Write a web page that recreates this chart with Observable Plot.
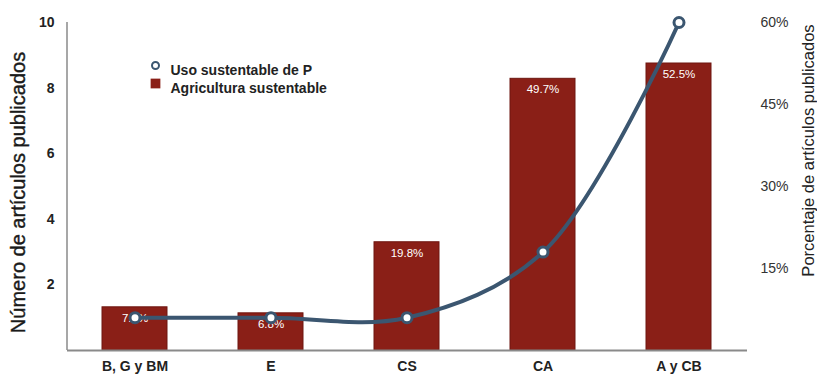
<!DOCTYPE html>
<html>
<head>
<meta charset="utf-8">
<script src="https://cdn.jsdelivr.net/npm/d3@7"></script>
<script src="https://cdn.jsdelivr.net/npm/@observablehq/plot@0.6"></script>
<style>
  html, body { margin: 0; padding: 0; background: #fff; }
  #chart { width: 817px; height: 377px; }
  svg { font-family: "Liberation Sans", Arial, sans-serif; }
</style>
</head>
<body>
<div id="chart"></div>
<script>
// Categories (x axis)
const categories = ["B, G y BM", "E", "CS", "CA", "A y CB"];
// Bars: "Agricultura sustentable", percentage of published articles (right axis)
const agriculturaPct = [7.9, 6.8, 19.8, 49.7, 52.5];
// Line: "Uso sustentable de P", number of published articles (left axis)
const usoP = [1, 1, 1, 3, 10];
// Axis ticks
const leftTicks = [2, 4, 6, 8, 10];
const rightTicksPct = [15, 30, 45, 60];
// Axis ranges: left 0–10 articles equals right 0–60 %
const leftMax = 10, rightMax = 60;
const pctToCount = p => p * leftMax / rightMax;

const barColor = "#8a1f17";
const lineColor = "#3b5670";

const rows = categories.map((c, i) => ({cat: c, pct: agriculturaPct[i], n: usoP[i]}));

const leftAxisLine = (index, {y}, values, dims) => {
  const g = d3.create("svg:line")
    .attr("x1", dims.marginLeft).attr("x2", dims.marginLeft)
    .attr("y1", y(leftMax)).attr("y2", y(0))
    .attr("stroke", "#8a8a8a").attr("stroke-width", 1.5);
  return g.node();
};

const chart = Plot.plot({
  width: 817,
  height: 377,
  marginTop: 22,
  marginBottom: 27,
  marginLeft: 67,
  marginRight: 70,
  style: {fontFamily: "Liberation Sans, Arial, sans-serif", background: "#fff"},
  x: {domain: categories, paddingInner: 0.52, paddingOuter: 0.26, align: 0.5},
  y: {domain: [0, leftMax]},
  marks: [
    Plot.barY(rows, {x: "cat", y: d => pctToCount(d.pct), fill: barColor, stroke: "#6e1610", strokeWidth: 1}),
    Plot.ruleY([0], {stroke: "#8a8a8a", strokeWidth: 2}),
    leftAxisLine,
    Plot.axisX({tickSize: 0, tickPadding: 11, fontSize: 14, fontWeight: "bold", fill: "#222", label: null}),
    Plot.axisY(leftTicks, {anchor: "left", tickSize: 0, tickPadding: 13, fontSize: 14, fontWeight: "bold", fill: "#222", label: null}),
    Plot.axisY(rightTicksPct.map(pctToCount), {anchor: "right", tickSize: 0, tickPadding: 13, fontSize: 14, fill: "#333", label: null,
      tickFormat: d => Math.round(d * rightMax / leftMax) + "%"}),
    Plot.text(["Número de artículos publicados"], {frameAnchor: "left", textAnchor: "middle", rotate: -90, dx: -49, dy: 6, fontSize: 20, fill: "#1a1a1a", stroke: "#1a1a1a", strokeWidth: 0.4}),
    Plot.text(["Porcentaje de artículos publicados"], {frameAnchor: "right", textAnchor: "middle", rotate: -90, dx: 61, dy: -36, fontSize: 16.5, fill: "#222"}),
    Plot.text(rows, {x: "cat", y: d => pctToCount(d.pct), text: d => d.pct.toFixed(1) + "%", dy: 11, fill: "#fff", fontSize: 11.5}),
    Plot.line(rows, {x: "cat", y: "n", curve: "catmull-rom", stroke: lineColor, strokeWidth: 4}),
    Plot.dot(rows, {x: "cat", y: "n", r: 5, fill: "#fff", stroke: lineColor, strokeWidth: 3}),
    // legend
    Plot.dot(["Uso sustentable de P"], {frameAnchor: "top-left", dx: 88, dy: 43, r: 3.5, fill: "#fff", stroke: lineColor, strokeWidth: 2}),
    Plot.text(["Uso sustentable de P"], {frameAnchor: "top-left", dx: 103, dy: 43, textAnchor: "start", fontSize: 14, fontWeight: "bold", fill: "#222"}),
    Plot.dot(["Agricultura sustentable"], {frameAnchor: "top-left", dx: 88, dy: 61, r: 5.5, symbol: "square", fill: barColor}),
    Plot.text(["Agricultura sustentable"], {frameAnchor: "top-left", dx: 103, dy: 61, textAnchor: "start", fontSize: 14, fontWeight: "bold", fill: "#222"})
  ]
});
document.getElementById("chart").appendChild(chart);
</script>
</body>
</html>
